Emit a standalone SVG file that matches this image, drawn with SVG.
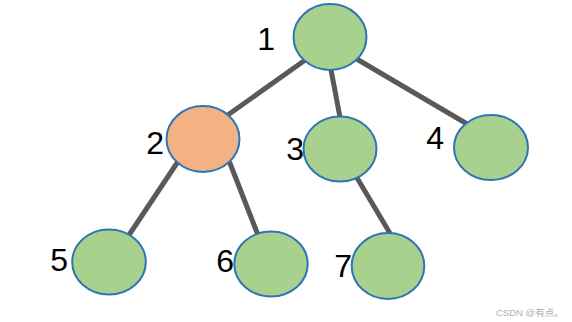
<svg xmlns="http://www.w3.org/2000/svg" width="572" height="322" viewBox="0 0 572 322">
<style>
.e{stroke:#595959;stroke-width:5;fill:none}
.n{fill:#a9d18e;stroke:#2e75b6;stroke-width:2}
.o{fill:#f4b183;stroke:#2e75b6;stroke-width:2}
.t{font-family:"Liberation Sans",Arial,sans-serif;font-size:32px;fill:#000;text-anchor:end}
.w{font-family:"Liberation Sans","Noto Sans CJK SC",sans-serif;font-size:9.5px;fill:#b0b0b0}
</style>
<rect width="572" height="322" fill="#fff"/>
<g id="connectors">
<line class="e" x1="308" y1="58" x2="225" y2="117"/>
<line class="e" x1="330.5" y1="67" x2="340.5" y2="120"/>
<line class="e" x1="355" y1="58" x2="468" y2="124.5"/>
<line class="e" x1="179" y1="160" x2="127" y2="238"/>
<line class="e" x1="229.5" y1="162" x2="258" y2="235"/>
<line class="e" x1="356.5" y1="177" x2="391" y2="235"/>
</g>
<g id="node1"><ellipse class="n" cx="330" cy="37" rx="36.5" ry="33"/><text class="t" x="275" y="50">1</text></g>
<g id="node2"><ellipse class="o" cx="203" cy="139" rx="36.5" ry="33"/><text class="t" x="164" y="154">2</text></g>
<g id="node3"><ellipse class="n" cx="340" cy="149" rx="36.5" ry="32.5"/><text class="t" x="304" y="160">3</text></g>
<g id="node4"><ellipse class="n" cx="491" cy="147.5" rx="37" ry="32.5"/><text class="t" x="444" y="149">4</text></g>
<g id="node5"><ellipse class="n" cx="109" cy="262" rx="36.8" ry="32.5"/><text class="t" x="68" y="271">5</text></g>
<g id="node6"><ellipse class="n" cx="271" cy="264" rx="36.7" ry="32.5"/><text class="t" x="234" y="272">6</text></g>
<g id="node7"><ellipse class="n" cx="388" cy="266" rx="36.3" ry="33"/><text class="t" x="352" y="277">7</text></g>
<text class="w" x="496" y="316">CSDN @有点。</text>
</svg>
